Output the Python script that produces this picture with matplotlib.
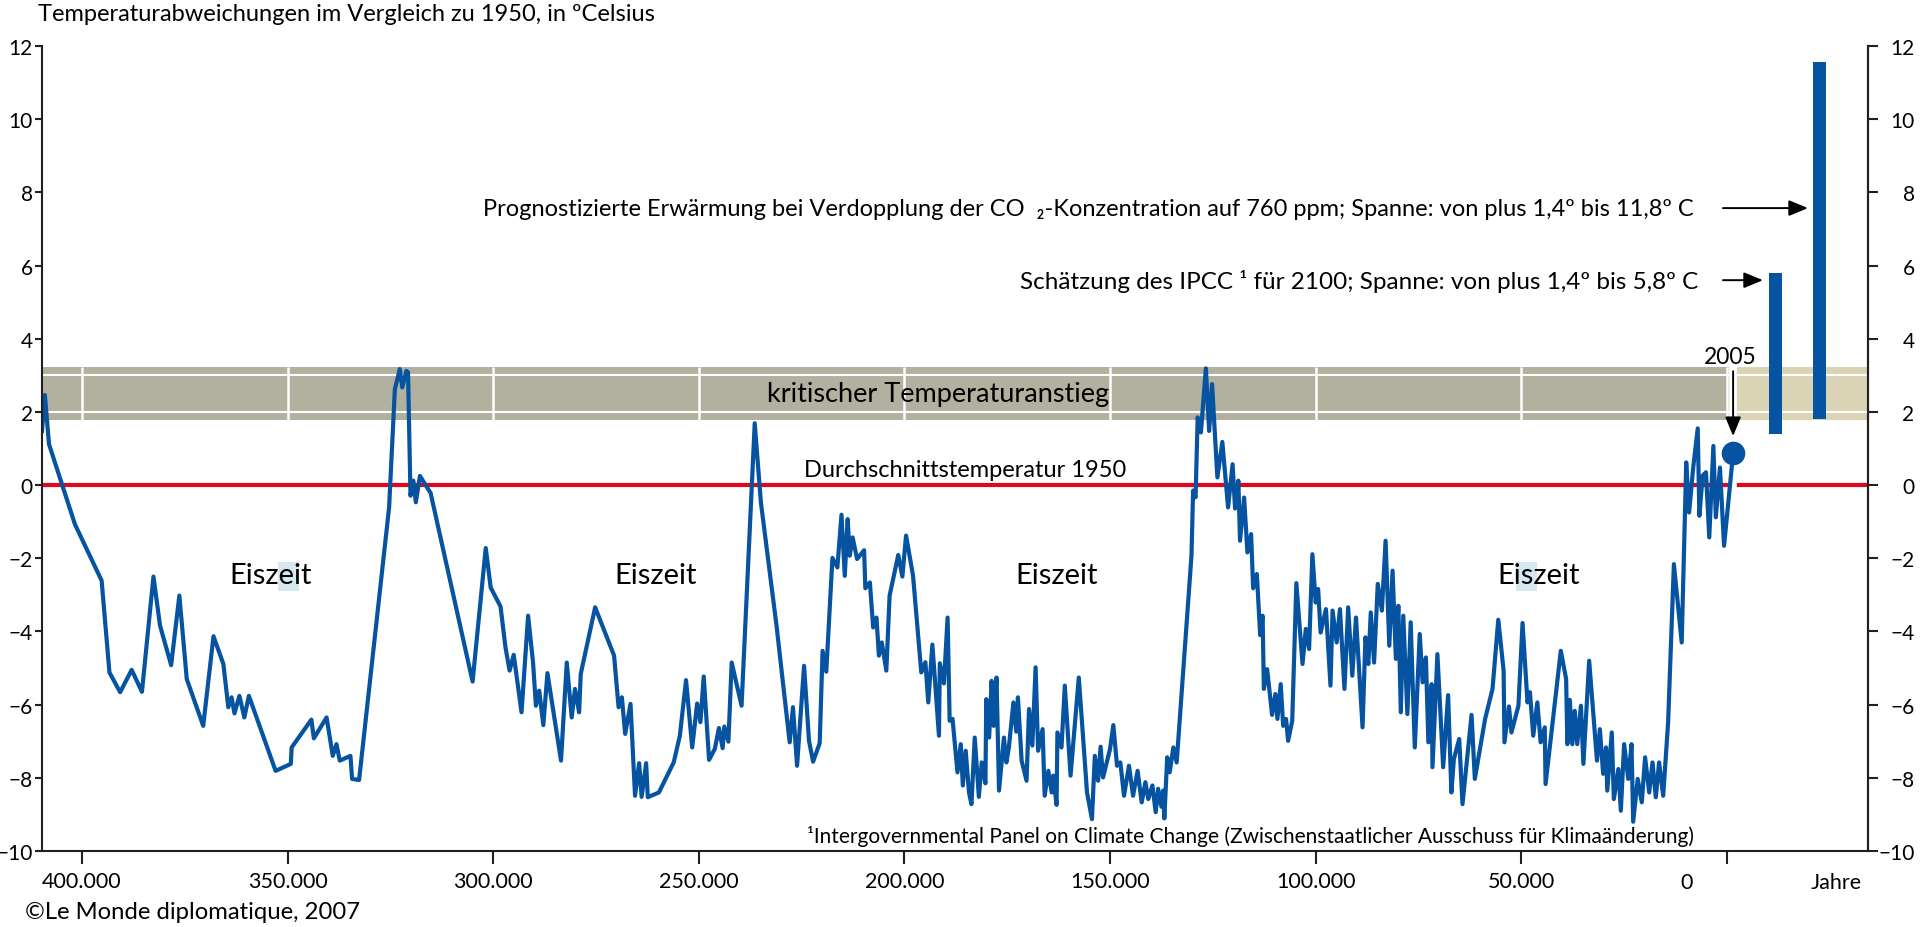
import matplotlib.pyplot as plt
from matplotlib.patches import Rectangle

plt.rcParams['font.family'] = ['Lato', 'DejaVu Sans']

# Temperaturkurve: Tausend Jahre vor heute / Abweichung in Grad
jahre = [409.7, 409.0, 408.0, 401.7, 395.2, 393.3, 390.7, 387.9, 385.4, 382.6,
         381.0, 378.3, 376.3, 374.5, 370.5, 368.0, 365.6, 364.4, 363.6, 362.9,
         361.7, 360.5, 359.4, 352.9, 349.2, 349.0, 344.2, 343.6, 340.5, 339.0,
         338.1, 337.3, 334.7, 334.3, 332.6, 325.3, 323.9, 322.7, 322.1, 321.1,
         320.7, 320.1, 319.4, 318.8, 317.8, 315.2,
         305.0, 301.8, 300.6, 298.2, 297.0, 296.0, 295.0, 293.1, 291.5, 290.3,
         289.6, 288.8, 287.8, 286.8, 283.5, 282.1, 280.9, 280.1, 279.1, 278.7,
         275.2, 270.6, 269.5, 268.7, 267.9, 266.6, 265.5, 264.5, 263.9, 262.8,
         262.4, 259.7, 256.1, 254.6, 253.1, 251.6, 250.4, 249.6, 248.8, 247.5,
         246.1, 245.1, 244.2, 243.8, 242.8, 242.0, 239.6, 236.4, 234.9, 231.1,
         227.9, 227.1, 226.1, 224.4, 223.2, 222.2, 220.6, 219.9, 219.0, 217.5,
         216.3, 215.3, 214.5, 213.8, 213.3, 212.6, 211.5, 209.8, 209.5, 208.4,
         207.6, 206.8, 206.2, 205.5, 204.4, 203.6,
         201.5, 200.5, 199.6, 197.9, 195.9, 194.9, 194.2, 193.2, 191.6, 191.4,
         190.4, 189.5, 189.0, 188.3, 187.1, 186.3, 185.8, 185.1, 184.3, 183.7,
         182.9, 181.9, 181.2, 180.3, 180.1, 179.4, 178.8, 178.3, 177.6, 177.0,
         175.8, 175.2, 174.6, 173.5, 172.8, 172.4, 171.5, 170.3, 169.7, 168.9,
         168.1, 167.5, 166.4, 165.9, 165.0, 164.2, 163.8, 163.0, 162.8, 161.8,
         161.0, 159.6, 157.6, 155.6, 154.4, 153.7, 152.9, 152.3, 151.7, 150.0,
         149.2, 148.3, 147.5, 146.6, 145.4, 144.4, 143.3, 142.3, 141.4, 140.7,
         139.7, 138.9, 138.3, 137.5, 137.1, 136.8, 136.1, 135.5, 134.6, 133.8,
         130.2, 129.8, 129.2, 128.7, 127.9, 126.7, 125.9, 125.2, 123.9, 122.7,
         121.3, 120.2, 119.6, 118.8, 118.4, 117.4, 116.6, 115.7, 115.2, 114.3,
         113.5, 112.9, 112.6, 111.8, 110.6, 109.8, 109.3, 108.5, 107.9, 107.2,
         106.7, 105.7, 104.7, 103.2, 102.4, 101.6,
         100.8, 100.0, 99.4, 98.8, 97.5, 96.4, 95.9, 94.9, 94.1, 93.0,
         92.1, 91.1, 90.2, 88.6, 87.9, 87.2, 86.6, 85.8, 84.9, 83.9,
         83.0, 82.1, 81.3, 80.5, 79.9, 79.3, 78.7, 77.7, 76.9, 75.9,
         74.7, 74.0, 73.2, 72.6, 71.8, 71.6, 70.4, 69.0, 67.8, 67.0,
         66.4, 65.1, 64.3, 62.1, 61.3, 58.8, 57.0, 55.6, 54.3, 54.1,
         53.0, 52.4, 50.7, 49.7, 48.5, 47.9, 47.1, 46.1, 45.3, 44.3,
         44.1, 40.4, 39.1, 38.8, 38.2, 37.6, 37.0, 36.4, 35.5, 34.9,
         33.5, 31.6, 30.9, 30.1, 29.4, 29.1, 28.0, 27.5, 26.4, 25.8,
         25.0, 24.0, 23.2, 22.8, 21.7, 20.7, 19.9, 18.9, 18.1, 17.3,
         16.5, 15.5, 14.3, 12.9, 11.0, 9.9, 9.2, 8.2, 7.1, 6.7,
         5.9, 5.1, 4.3, 3.3, 2.7, 1.7, 0.7, -1.5]
temp = [1.48, 2.46, 1.12, -1.07, -2.61, -5.12, -5.66, -5.05, -5.65, -2.50,
        -3.84, -4.92, -3.02, -5.30, -6.58, -4.13, -4.89, -6.07, -5.80, -6.24,
        -5.76, -6.35, -5.76, -7.81, -7.62, -7.17, -6.41, -6.92, -6.35, -7.40,
        -7.08, -7.53, -7.40, -8.03, -8.06, -0.61, 2.62, 3.17, 2.67, 3.12,
        3.08, -0.29, 0.12, -0.47, 0.25, -0.22,
        -5.37, -1.72, -2.80, -3.32, -4.44, -5.07, -4.64, -6.21, -3.57, -4.85,
        -6.03, -5.62, -6.56, -5.14, -7.53, -4.85, -6.35, -5.57, -6.21, -5.16,
        -3.34, -4.66, -6.07, -5.80, -6.80, -5.98, -8.49, -7.60, -8.52, -7.60,
        -8.53, -8.40, -7.58, -6.85, -5.33, -7.17, -5.97, -6.48, -5.23, -7.51,
        -7.21, -6.64, -7.19, -6.60, -7.01, -4.85, -6.03, 1.69, -0.47, -3.84,
        -7.03, -6.07, -7.67, -4.94, -6.99, -7.56, -7.05, -4.53, -5.10, -1.99,
        -2.25, -0.81, -2.48, -0.93, -1.93, -1.43, -2.02, -1.78, -2.82, -2.66,
        -3.89, -3.62, -4.66, -4.30, -5.07, -3.02,
        -1.91, -2.50, -1.38, -2.48, -5.12, -4.84, -5.94, -4.36, -6.85, -4.87,
        -5.42, -3.62, -6.44, -6.39, -7.85, -7.08, -8.21, -7.26, -8.40, -8.72,
        -6.90, -8.52, -7.58, -8.15, -5.85, -6.90, -5.35, -6.58, -5.26, -8.35,
        -6.90, -7.58, -7.17, -5.94, -6.74, -5.80, -7.53, -8.08, -6.12, -7.12,
        -4.98, -7.26, -6.67, -8.49, -7.81, -8.40, -7.94, -8.74, -6.76, -7.17,
        -5.48, -7.94, -5.26, -8.40, -9.13, -7.40, -8.08, -7.15, -7.99, -7.21,
        -6.56, -7.67, -7.58, -8.49, -7.67, -8.49, -7.81, -8.67, -8.12, -8.58,
        -8.21, -8.94, -8.30, -8.79, -8.35, -9.11, -7.44, -7.85, -7.17, -7.58,
        -1.93, -0.15, -0.33, 1.85, 1.44, 3.19, 1.48, 2.76, 0.21, 1.18,
        -0.61, 0.57, -0.64, 0.12, -1.52, -0.34, -1.84, -1.34, -2.82, -2.43,
        -4.10, -3.57, -5.57, -5.03, -6.28, -5.71, -6.39, -5.44, -6.58, -6.39,
        -6.99, -6.44, -2.68, -4.89, -3.93, -4.48,
        -1.89, -3.21, -2.84, -4.03, -3.39, -5.48, -3.43, -4.30, -3.39, -5.57,
        -3.34, -5.21, -3.62, -6.62, -4.16, -4.89, -3.48, -4.85, -2.70, -3.43,
        -1.52, -4.39, -2.34, -4.75, -3.30, -6.21, -3.57, -6.26, -3.75, -7.17,
        -4.07, -5.39, -4.71, -7.03, -5.44, -7.71, -4.62, -7.71, -5.74, -8.40,
        -7.49, -6.94, -8.72, -6.28, -8.03, -6.39, -5.57, -3.68, -5.07, -7.03,
        -6.05, -6.76, -6.03, -3.77, -5.94, -5.66, -6.85, -5.94, -7.03, -6.62,
        -8.17, -4.53, -5.30, -7.08, -5.87, -7.08, -6.17, -7.08, -6.03, -7.62,
        -4.80, -7.53, -6.67, -7.89, -7.17, -8.35, -6.76, -8.58, -7.76, -8.90,
        -7.08, -8.03, -7.08, -9.20, -8.03, -8.67, -7.44, -8.40, -7.58, -8.53,
        -7.58, -8.49, -6.48, -2.16, -4.30, 0.62, -0.75, 0.48, 1.55, -0.84,
        0.26, 0.35, -1.43, 1.07, -0.88, 0.48, -1.66, 0.87]

# Messwert 2005
jahr_2005 = -1.5
temp_2005 = 0.87

# Prognosen (Balken)
balken_x = [-11.7, -22.6]
balken_von = [1.4, 1.8]
balken_bis = [5.8, 11.55]

# kritischer Bereich
band_von, band_bis = 1.78, 3.22

xticks = [400, 350, 300, 250, 200, 150, 100, 50, 0]
xticklabels = ['400.000', '350.000', '300.000', '250.000', '200.000',
               '150.000', '100.000', '50.000', '']
yticks = [-10, -8, -6, -4, -2, 0, 2, 4, 6, 8, 10, 12]

eiszeit_x = [354.0, 260.4, 162.9, 45.8]

blau = '#0553a1'
rot = '#e3051b'
grau = '#b2b09e'
beige = '#dad4b5'
hellblau = '#d5e7f1'
schwarz = '#231f20'

x_links, x_rechts = 409.7, -34.3

fig = plt.figure(figsize=(19.2, 9.28), dpi=100)
ax = fig.add_axes([42 / 1920, 1 - 852 / 928, 1826 / 1920, 805 / 928])
ax.set_xlim(x_links, x_rechts)
ax.set_ylim(-10, 12)

# Band
ax.fill_between([x_links, jahr_2005], band_von, band_bis, color=grau, lw=0, zorder=1)
ax.fill_between([jahr_2005, x_rechts], band_von, band_bis, color=beige, lw=0, zorder=1)
ax.hlines([2, 3], x_links, x_rechts, colors='white', lw=1.5, zorder=1.1)
ax.vlines(xticks, band_von, band_bis, colors='white', lw=1.8, zorder=1.1)

ax.axhline(0, color=rot, lw=3, zorder=1.2)
ax.vlines(jahr_2005, -0.3, band_bis, colors='white', lw=5.5, zorder=1.3)

# Kurve + Balken
ax.plot(jahre, temp, color=blau, lw=3, zorder=2)
ax.plot(jahr_2005, temp_2005, 'o', ms=16, color=blau, zorder=3)
ax.bar(balken_x, [b - a for a, b in zip(balken_von, balken_bis)], bottom=balken_von,
       width=3.16, color=blau, zorder=2)

# Pfeile
pfeil = dict(arrowstyle='-|>,head_length=0.58,head_width=0.24', color='black',
             lw=1.4, shrinkA=0, shrinkB=0, mutation_scale=20)
ax.annotate('', xy=(-19.7, 7.57), xytext=(0.97, 7.57), arrowprops=pfeil, zorder=4)
ax.annotate('', xy=(-8.75, 5.6), xytext=(0.97, 5.6), arrowprops=pfeil, zorder=4)
ax.annotate('', xy=(jahr_2005, 1.34), xytext=(jahr_2005, 3.11), arrowprops=pfeil, zorder=4)

# Texte
ax.text(8.0, 7.57, 'Prognostizierte Erwärmung bei Verdopplung der CO  \u2082-Konzentration '
        'auf 760 ppm; Spanne: von plus 1,4º bis 11,8º C',
        ha='right', va='center', fontsize=17, zorder=5)
ax.text(7.05, 5.6, 'Schätzung des IPCC \u00b9 für 2100; Spanne: von plus 1,4º bis 5,8º C',
        ha='right', va='center', fontsize=17.5, zorder=5)
ax.text(-0.7, 3.52, '2005', ha='center', va='center', fontsize=16.5, zorder=5)
ax.text(191.9, 2.5, 'kritischer Temperaturanstieg', ha='center', va='center',
        fontsize=19.5, zorder=5)
ax.text(185.3, 0.25, 'Durchschnittstemperatur 1950', ha='center', va='baseline',
        fontsize=17, zorder=5)
for xe in eiszeit_x:
    ax.text(xe, -2.47, 'Eiszeit', ha='center', va='center', fontsize=21, zorder=5)
ax.add_patch(Rectangle((347.3, -2.9), 5.1, 0.8, color=hellblau, lw=0, zorder=4))
ax.add_patch(Rectangle((46.2, -2.9), 5.1, 0.8, color=hellblau, lw=0, zorder=4))
ax.text(223.7, -9.59, '\u00b9Intergovernmental Panel on Climate Change '
        '(Zwischenstaatlicher Ausschuss für Klimaänderung)',
        ha='left', va='center', fontsize=15, zorder=5)

# Achsen
for s in ['left', 'bottom', 'right']:
    ax.spines[s].set_linewidth(1.5)
    ax.spines[s].set_color(schwarz)
ax.spines['top'].set_visible(False)
ax.set_xticks(xticks)
ax.set_xticklabels(xticklabels)
ax.set_yticks(yticks)
ax.tick_params(axis='x', length=9.5, width=1.5, color=schwarz, labelsize=15.5, pad=5)
ax.tick_params(axis='y', length=5, width=1.5, color=schwarz, labelsize=15, pad=1.5)
ax.text(9.7, -0.0385, '0', transform=ax.get_xaxis_transform(), ha='center',
        va='center', fontsize=15.5)
ax.text(-26.7, -0.0385, 'Jahre', transform=ax.get_xaxis_transform(), ha='center',
        va='center', fontsize=15.5)

ax2 = ax.twinx()
ax2.set_ylim(-10, 12)
ax2.set_yticks(yticks)
for s in ['left', 'bottom', 'top']:
    ax2.spines[s].set_visible(False)
ax2.spines['right'].set_linewidth(1.5)
ax2.spines['right'].set_color(schwarz)
ax2.tick_params(axis='y', length=7.5, width=1.5, color=schwarz, labelsize=15, pad=26)
for t in ax2.yaxis.get_major_ticks():
    t.label2.set_horizontalalignment('right')

fig.text(38 / 1920, 1 - 21 / 928, 'Temperaturabweichungen im Vergleich zu 1950, in ºCelsius',
         va='baseline', ha='left', fontsize=17)
fig.text(25 / 1920, 1 - 913 / 928, '©Le Monde diplomatique, 2007',
         va='center', ha='left', fontsize=17.2)

fig.savefig('out.png', dpi=100)
